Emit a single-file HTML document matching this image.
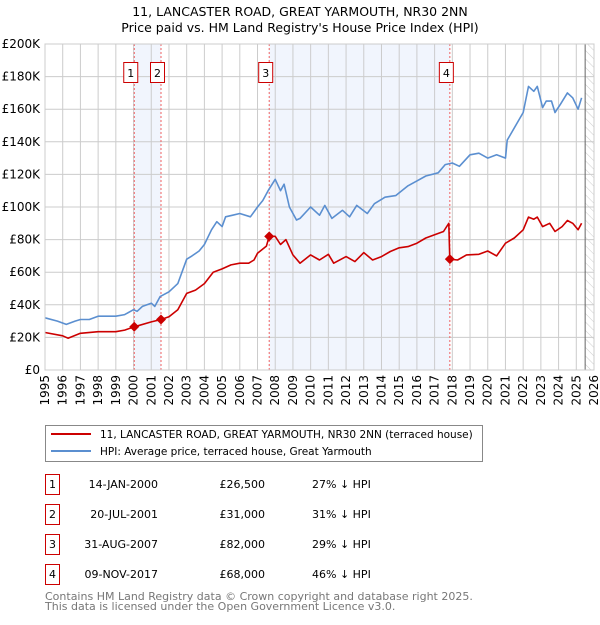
<!DOCTYPE html>
<html><head><meta charset="utf-8"><style>
body{margin:0;background:#fff;}
svg text{font-family:"DejaVu Sans","Liberation Sans",sans-serif;}
</style></head><body>
<svg id="chart" width="600" height="620" xmlns="http://www.w3.org/2000/svg">
<defs><pattern id="hatch" width="6" height="6" patternUnits="userSpaceOnUse" patternTransform="rotate(-45)"><line x1="0" y1="0" x2="0" y2="6" stroke="#ccc" stroke-width="1"/></pattern></defs>
<text x="300" y="16" text-anchor="middle" font-size="12.5">11, LANCASTER ROAD, GREAT YARMOUTH, NR30 2NN</text>
<text x="300" y="32" text-anchor="middle" font-size="12.5">Price paid vs. HM Land Registry's House Price Index (HPI)</text>
<g id="plot"></g>
<g>
<rect x="45.5" y="425.5" width="437" height="36" fill="#fff" stroke="#888"/>
<line x1="51" y1="434" x2="91" y2="434" stroke="#cc0000" stroke-width="2"/>
<text x="100" y="438" font-size="10.5">11, LANCASTER ROAD, GREAT YARMOUTH, NR30 2NN (terraced house)</text>
<line x1="51" y1="451" x2="91" y2="451" stroke="#5b8fd0" stroke-width="2"/>
<text x="100" y="455" font-size="10.5">HPI: Average price, terraced house, Great Yarmouth</text>
</g>
<g id="table"></g>
<text x="45" y="600" font-size="11" fill="#777">Contains HM Land Registry data © Crown copyright and database right 2025.</text>
<text x="45" y="610" font-size="11" fill="#777">This data is licensed under the Open Government Licence v3.0.</text>
</svg>
<script>
const yTicks=[0,20,40,60,80,100,120,140,160,180,200];
const yTickLabels=["£0","£20K","£40K","£60K","£80K","£100K","£120K","£140K","£160K","£180K","£200K"];
const xYears=[1995,1996,1997,1998,1999,2000,2001,2002,2003,2004,2005,2006,2007,2008,2009,2010,2011,2012,2013,2014,2015,2016,2017,2018,2019,2020,2021,2022,2023,2024,2025,2026];
const hpiT=[1995,1995.7,1996.2,1996.7,1997,1997.5,1998,1998.6,1999,1999.5,2000,2000.2,2000.5,2001,2001.2,2001.5,2002,2002.5,2003,2003.3,2003.7,2004,2004.4,2004.7,2005,2005.2,2005.6,2006,2006.6,2007,2007.3,2007.6,2008,2008.3,2008.5,2008.8,2009.2,2009.4,2010,2010.5,2010.8,2011.2,2011.8,2012.2,2012.6,2013.2,2013.6,2014.2,2014.8,2015.5,2016,2016.5,2017.2,2017.6,2018,2018.4,2019,2019.5,2020,2020.5,2021,2021.1,2022,2022.3,2022.6,2022.8,2023.1,2023.3,2023.6,2023.8,2024.1,2024.5,2024.8,2025.1,2025.3];
const hpiV=[32,30,28,30,31,31,33,33,33,34,37,36,39,41,39,45,48,53,68,70,73,77,86,91,88,94,95,96,94,100,104,110,117,110,114,100,92,93,100,95,101,93,98,94,101,96,102,106,107,113,116,119,121,126,127,125,132,133,130,132,130,141,158,174,171,174,161,165,165,158,163,170,167,160,167];
const priceT=[1995,1996,1996.3,1997,1998,1999,1999.5,2000.04,2001,2001.55,2002,2002.5,2003,2003.5,2004,2004.5,2005,2005.5,2006,2006.5,2006.8,2007,2007.5,2007.66,2008,2008.3,2008.6,2009,2009.4,2010,2010.5,2011,2011.3,2012,2012.5,2013,2013.5,2014,2014.5,2015,2015.5,2016,2016.5,2017,2017.5,2017.8,2017.86,2018.3,2018.8,2019.5,2020,2020.5,2021,2021.5,2022,2022.3,2022.6,2022.8,2023.1,2023.5,2023.8,2024.2,2024.5,2024.8,2025.1,2025.3];
const priceV=[23,21,19.5,22.5,23.5,23.5,24.5,26.5,29.5,31,32.7,37,47,49,53,60,62,64.5,65.5,65.5,67.5,71.6,76,82,82,77,80,70.6,65.5,70.6,67.5,71,65.5,69.6,66.5,72,67.5,69.6,72.7,75,75.7,77.8,81,83,85,90,68,67.5,70.6,71,73,70,77.8,81,86,93.8,92.5,93.8,88,90,85,88,91.7,90,86,90];
const saleT=[2000.04,2001.55,2007.66,2017.86];
const saleV=[26.5,31,82,68];
const saleNum=["1","2","3","4"];
const saleDate=["14-JAN-2000","20-JUL-2001","31-AUG-2007","09-NOV-2017"];
const salePrice=["£26,500","£31,000","£82,000","£68,000"];
const saleHpi=["27% ↓ HPI","31% ↓ HPI","29% ↓ HPI","46% ↓ HPI"];
const L=45,R=594,T=44,B=370,Y0=1995,Y1=2026,VMAX=200,DATA_END=2025.5;
const xs=t=>L+(t-Y0)/(Y1-Y0)*(R-L);
const ys=v=>B-v/VMAX*(B-T);
const NS="http://www.w3.org/2000/svg";
function mk(tag,attrs,parent,text){const e=document.createElementNS(NS,tag);for(const k in attrs)e.setAttribute(k,attrs[k]);if(text!=null)e.textContent=text;parent.appendChild(e);return e;}
const plot=document.getElementById('plot');
// shading
for(const [a,b] of [[0,1],[2,3]]){const r=mk('rect',{x:xs(saleT[a]),y:T,width:xs(saleT[b])-xs(saleT[a]),height:B-T,fill:'#eef3fd',opacity:0.8},plot);

}
const hz=mk('rect',{x:xs(DATA_END),y:T,width:R-xs(DATA_END),height:B-T,fill:'url(#hatch)'},plot);


// grid
yTicks.forEach((v,i)=>{const g=mk('line',{x1:L,x2:R,y1:ys(v),y2:ys(v),stroke:'#ccc','stroke-width':1},plot);


const t=mk('text',{x:L-5,y:ys(v)+4,'text-anchor':'end','font-size':12},plot,yTickLabels[i]);

});
xYears.forEach(yr=>{const g=mk('line',{x1:xs(yr),x2:xs(yr),y1:T,y2:B,stroke:'#ccc','stroke-width':1},plot);


const t=mk('text',{x:0,y:0,'text-anchor':'end','font-size':12,transform:`translate(${xs(yr)+4},${B+5}) rotate(-90)`},plot,String(yr));

});
const dl=mk('line',{x1:xs(DATA_END),x2:xs(DATA_END),y1:T,y2:B,stroke:'#666','stroke-width':1},plot);


// sale lines
saleT.forEach(t=>{const l=mk('line',{x1:xs(t),x2:xs(t),y1:T,y2:B,stroke:'#f06060','stroke-width':1,'stroke-dasharray':'2,2'},plot);

});
function line(T_,V_,col,name){const d=T_.map((t,i)=>(i?'L':'M')+xs(t).toFixed(1)+','+ys(V_[i]).toFixed(1)).join('');
const p=mk('path',{d,fill:'none',stroke:col,'stroke-width':1.6,'stroke-linejoin':'round'},plot);

}
line(hpiT,hpiV,'#5b8fd0','hpi-line');
line(priceT,priceV,'#cc0000','price-paid-line');
saleT.forEach((t,i)=>{const cx=xs(t),cy=ys(saleV[i]);
const m=mk('path',{d:`M${cx},${cy-5}L${cx+5},${cy}L${cx},${cy+5}L${cx-5},${cy}Z`,fill:'#cc0000'},plot);


const g=mk('g',{},plot);


mk('rect',{x:cx-10.5,y:62.5,width:14,height:20,fill:'#fff',stroke:'#cc0000'},g);
mk('text',{x:cx-3.5,y:77,'text-anchor':'middle','font-size':11},g,saleNum[i]);});
const ax=mk('rect',{x:L,y:T,width:R-L,height:B-T,fill:'none',stroke:'#ccc'},plot);


// table
const tb=document.getElementById('table');
saleNum.forEach((n,i)=>{const cy=485+i*30;const g=mk('g',{},tb);


mk('rect',{x:45.5,y:cy-10.5,width:14,height:20,fill:'#fff',stroke:'#cc0000'},g);
mk('text',{x:52.5,y:cy+3,'text-anchor':'middle','font-size':11},g,n);
mk('text',{x:158,y:cy+3,'text-anchor':'end','font-size':11},g,saleDate[i]);
mk('text',{x:265,y:cy+3,'text-anchor':'end','font-size':11},g,salePrice[i]);
mk('text',{x:312,y:cy+3,'font-size':11},g,saleHpi[i]);});
</script>
</body></html>
